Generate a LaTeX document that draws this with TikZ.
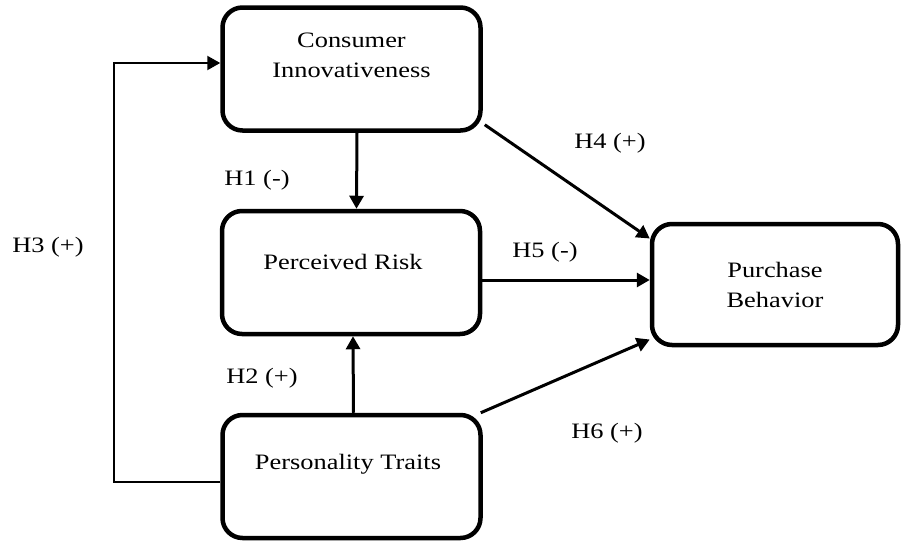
\documentclass[tikz,border=0pt]{standalone}
\usepackage{fontspec}
\setmainfont{Liberation Serif}[FakeStretch=1.2]
\usetikzlibrary{arrows.meta, positioning}

\tikzset{
    construct/.style={draw, line width=4.5pt, rounded corners=20pt, minimum width=258pt, minimum height=123pt, inner sep=0pt},
    boxtext/.style={align=center, font=\fontsize{22}{30}\selectfont},
    hyp/.style={font=\fontsize{22}{30}\selectfont},
    path/.style={line width=3pt, -{Triangle[length=13pt,width=14pt]}}
}

\begin{document}
\begin{tikzpicture}[x=1pt,y=1pt]
                    \useasboundingbox (0,0) rectangle (903,-554);
                    % constructs
                    \node[construct] (ci) at (351.5,-69) {};
                    \node[construct] (pr) at (351,-272.5) {};
                    \node[construct] (pt) at (351.5,-476.5) {};
                    \node[construct, minimum width=246pt, minimum height=121pt] (pb) at (775,-284.5) {};
                    \node[boxtext] (ci-text) at (351.5,-55) {Consumer\\Innovativeness};
                    \node[boxtext] (pr-text) at (343,-262) {Perceived Risk};
                    \node[boxtext] (pt-text) at (348,-464) {Personality Traits};
                    \node[boxtext] (pb-text) at (775,-285) {Purchase\\Behavior};
                    % hypotheses
                    \draw[path] ([xshift=5.5pt]ci.south) -- ([xshift=5.5pt]pr.north);
                    \draw[path] ([xshift=2pt]pt.north) -- ([xshift=2pt]pr.south);
                    \draw[path, line width=2.2pt] ([yshift=-5.5pt]pt.west) -- ++(-106pt,0) |- ([yshift=6pt]ci.west);
                    \draw[path] ([xshift=2pt,yshift=8pt]ci.south east) -- ([yshift=46pt]pb.west);
                    \draw[path] ([yshift=-7.5pt]pr.east) -- ([yshift=-7.5pt]pr.east -| pb.west);
                    \draw[path] ([xshift=-2pt]pt.north east) -- ([yshift=-55pt]pb.west);
                    % labels
                    \node[hyp] (h1) at (257,-180) {H1 (-)};
                    \node[hyp] (h2) at (262,-378) {H2 (+)};
                    \node[hyp] (h3) at (48,-247) {H3 (+)};
                    \node[hyp] (h4) at (610,-143) {H4 (+)};
                    \node[hyp] (h5) at (545,-252) {H5 (-)};
                    \node[hyp] (h6) at (607,-433) {H6 (+)};
                \end{tikzpicture}
\end{document}
